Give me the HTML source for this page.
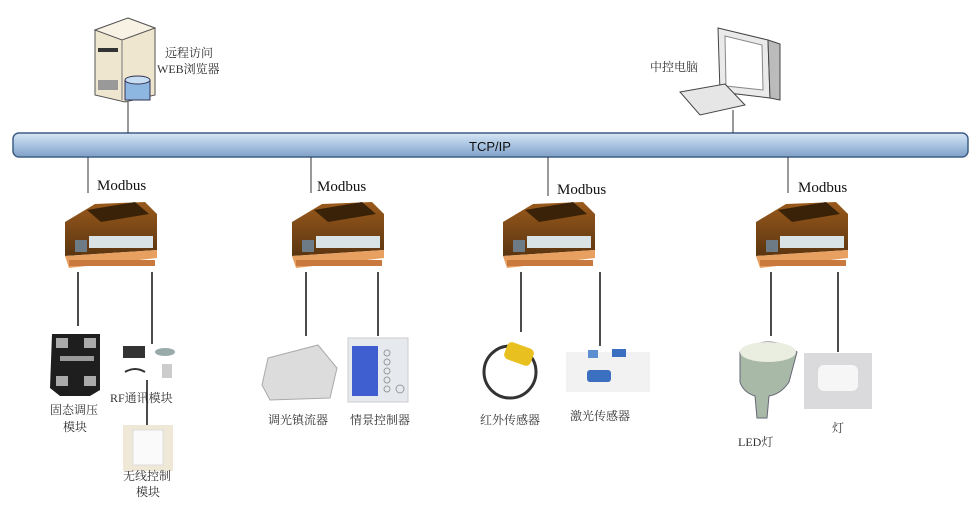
<!DOCTYPE html>
<html><head><meta charset="utf-8"><style>
body{margin:0;background:#fff;}
svg{display:block}
text{font-family:"Liberation Serif","Noto Serif CJK SC","Noto Sans CJK SC",serif;}
.l{font-size:12px;fill:#333}
.m{font-size:15px;fill:#111}
</style></head><body>
<svg width="978" height="514" viewBox="0 0 978 514" xmlns="http://www.w3.org/2000/svg">
<defs>
<linearGradient id="bus" x1="0" y1="0" x2="0" y2="1"><stop offset="0" stop-color="#d8e6f4"/><stop offset="0.5" stop-color="#a9c4e2"/><stop offset="1" stop-color="#7f9fc6"/></linearGradient>
<linearGradient id="plc" x1="0" y1="0" x2="0" y2="1"><stop offset="0" stop-color="#9a5a1c"/><stop offset="1" stop-color="#5a3510"/></linearGradient>
<g id="plcg">
<polygon points="0,22 30,4 80,2 92,14 92,50 0,56" fill="url(#plc)"/>
<polygon points="22,10 70,2 84,14 36,22" fill="#3a2208"/>
<rect x="24" y="36" width="64" height="12" fill="#d9e2e4"/>
<rect x="10" y="40" width="12" height="12" fill="#6d7b86"/>
<polygon points="0,56 92,50 92,58 4,68" fill="#e8a060"/>
<rect x="4" y="60" width="86" height="6" fill="#c9793e"/>
</g>
</defs>
<!-- bus -->
<rect x="13" y="133" width="955" height="24" rx="6" fill="url(#bus)" stroke="#3d5f86" stroke-width="1.5"/>
<text x="490" y="151" text-anchor="middle" style="font-family:'Liberation Sans',sans-serif;font-size:13px" fill="#111">TCP/IP</text>
<!-- server -->
<polygon points="95,30 128,18 155,28 155,95 125,102 95,95" fill="#efe6cf" stroke="#555"/>
<polygon points="95,30 128,18 155,28 122,40" fill="#f7f2e3" stroke="#555"/>
<line x1="122" y1="40" x2="122" y2="100" stroke="#777"/>
<rect x="98" y="48" width="20" height="4" fill="#333"/>
<rect x="98" y="80" width="20" height="10" fill="#999"/>
<rect x="125" y="80" width="25" height="20" fill="#8db6e0" stroke="#335"/>
<ellipse cx="137.5" cy="80" rx="12.5" ry="4" fill="#c6ddf2" stroke="#335"/>
<line x1="128" y1="102" x2="128" y2="133" stroke="#333"/>
<text x="165" y="57" class="l">远程访问</text>
<text x="157" y="73" class="l">WEB浏览器</text>
<!-- monitor -->
<polygon points="718,28 768,40 770,98 720,92" fill="#eaeaea" stroke="#444"/>
<polygon points="725,36 762,45 763,90 726,86" fill="#fff" stroke="#888"/>
<polygon points="768,40 780,44 780,100 770,98" fill="#bbb" stroke="#444"/>
<polygon points="680,92 725,84 745,105 700,115" fill="#e6e6e6" stroke="#444"/>
<line x1="733" y1="110" x2="733" y2="133" stroke="#333"/>
<text x="650" y="71" class="l">中控电脑</text>
<!-- modbus drops -->
<g stroke="#333" stroke-width="1">
<line x1="88" y1="157" x2="88" y2="193"/><line x1="311" y1="157" x2="311" y2="193"/>
<line x1="548" y1="157" x2="548" y2="196"/><line x1="788" y1="157" x2="788" y2="193"/>
</g>
<text x="97" y="190" class="m">Modbus</text>
<text x="317" y="191" class="m">Modbus</text>
<text x="557" y="194" class="m">Modbus</text>
<text x="798" y="192" class="m">Modbus</text>
<use href="#plcg" x="65" y="200"/><use href="#plcg" x="292" y="200"/>
<use href="#plcg" x="503" y="200"/><use href="#plcg" x="756" y="200"/>
<g stroke="#111" stroke-width="1.5">
<line x1="78" y1="272" x2="78" y2="326"/><line x1="152" y1="272" x2="152" y2="344"/>
<line x1="306" y1="272" x2="306" y2="336"/><line x1="378" y1="272" x2="378" y2="336"/>
<line x1="521" y1="272" x2="521" y2="332"/><line x1="600" y1="272" x2="600" y2="346"/>
<line x1="771" y1="272" x2="771" y2="336"/><line x1="838" y1="272" x2="838" y2="352"/>
<line x1="147" y1="380" x2="147" y2="425"/>
</g>
<!-- devices -->
<polygon points="52,334 100,334 100,390 90,396 60,396 50,388" fill="#1e1e1e"/>
<rect x="56" y="338" width="12" height="10" fill="#aaa"/><rect x="84" y="338" width="12" height="10" fill="#aaa"/>
<rect x="56" y="376" width="12" height="10" fill="#aaa"/><rect x="84" y="376" width="12" height="10" fill="#aaa"/>
<rect x="60" y="356" width="34" height="5" fill="#999"/>
<rect x="123" y="346" width="22" height="12" fill="#333"/>
<ellipse cx="165" cy="352" rx="10" ry="4" fill="#9aa"/>
<rect x="162" y="364" width="10" height="14" fill="#ccc"/>
<path d="M125,372 q10,-6 20,0" stroke="#333" fill="none" stroke-width="2"/>
<rect x="123" y="425" width="50" height="46" fill="#efe8d6"/><rect x="133" y="430" width="30" height="35" fill="#fafafa" stroke="#ddd"/>
<polygon points="268,358 318,345 337,368 330,398 270,400 262,385" fill="#dcdcdc" stroke="#aaa"/>
<rect x="348" y="338" width="60" height="64" fill="#e6eaee" stroke="#ccc"/>
<rect x="352" y="346" width="26" height="50" fill="#3f5ed0"/>
<g fill="none" stroke="#999"><circle cx="387" cy="353" r="3"/><circle cx="387" cy="362" r="3"/><circle cx="387" cy="371" r="3"/><circle cx="387" cy="380" r="3"/><circle cx="387" cy="389" r="3"/><circle cx="400" cy="389" r="4"/></g>
<circle cx="510" cy="372" r="26" fill="none" stroke="#333" stroke-width="3"/>
<rect x="505" y="345" width="28" height="18" rx="5" fill="#e8c020" transform="rotate(20 519 354)"/>
<rect x="566" y="352" width="84" height="40" fill="#f2f2f2"/>
<rect x="587" y="370" width="24" height="12" rx="3" fill="#3b6fc0"/>
<rect x="612" y="349" width="14" height="8" fill="#3b6fc0"/>
<rect x="588" y="350" width="10" height="8" fill="#5b8fd0"/>
<path d="M740,352 q28,-20 57,0 l-8,30 q-8,12 -20,14 l-2,22 l-10,0 l-2,-22 q-12,-4 -15,-14 z" fill="#a8b9a8" stroke="#667"/>
<ellipse cx="768" cy="352" rx="28" ry="10" fill="#e9eee0"/>
<rect x="804" y="353" width="68" height="56" fill="#dadadc"/>
<rect x="818" y="365" width="40" height="26" rx="6" fill="#f6f6f6"/>
<!-- labels -->
<text x="50" y="414" class="l">固态调压</text><text x="63" y="431" class="l">模块</text>
<text x="110" y="402" class="l">RF通讯模块</text>
<text x="123" y="480" class="l">无线控制</text><text x="136" y="496" class="l">模块</text>
<text x="268" y="424" class="l">调光镇流器</text><text x="350" y="424" class="l">情景控制器</text>
<text x="480" y="424" class="l">红外传感器</text><text x="570" y="420" class="l">激光传感器</text>
<text x="738" y="446" class="l" fill="#111">LED灯</text><text x="832" y="432" class="l">灯</text>
</svg>
</body></html>
